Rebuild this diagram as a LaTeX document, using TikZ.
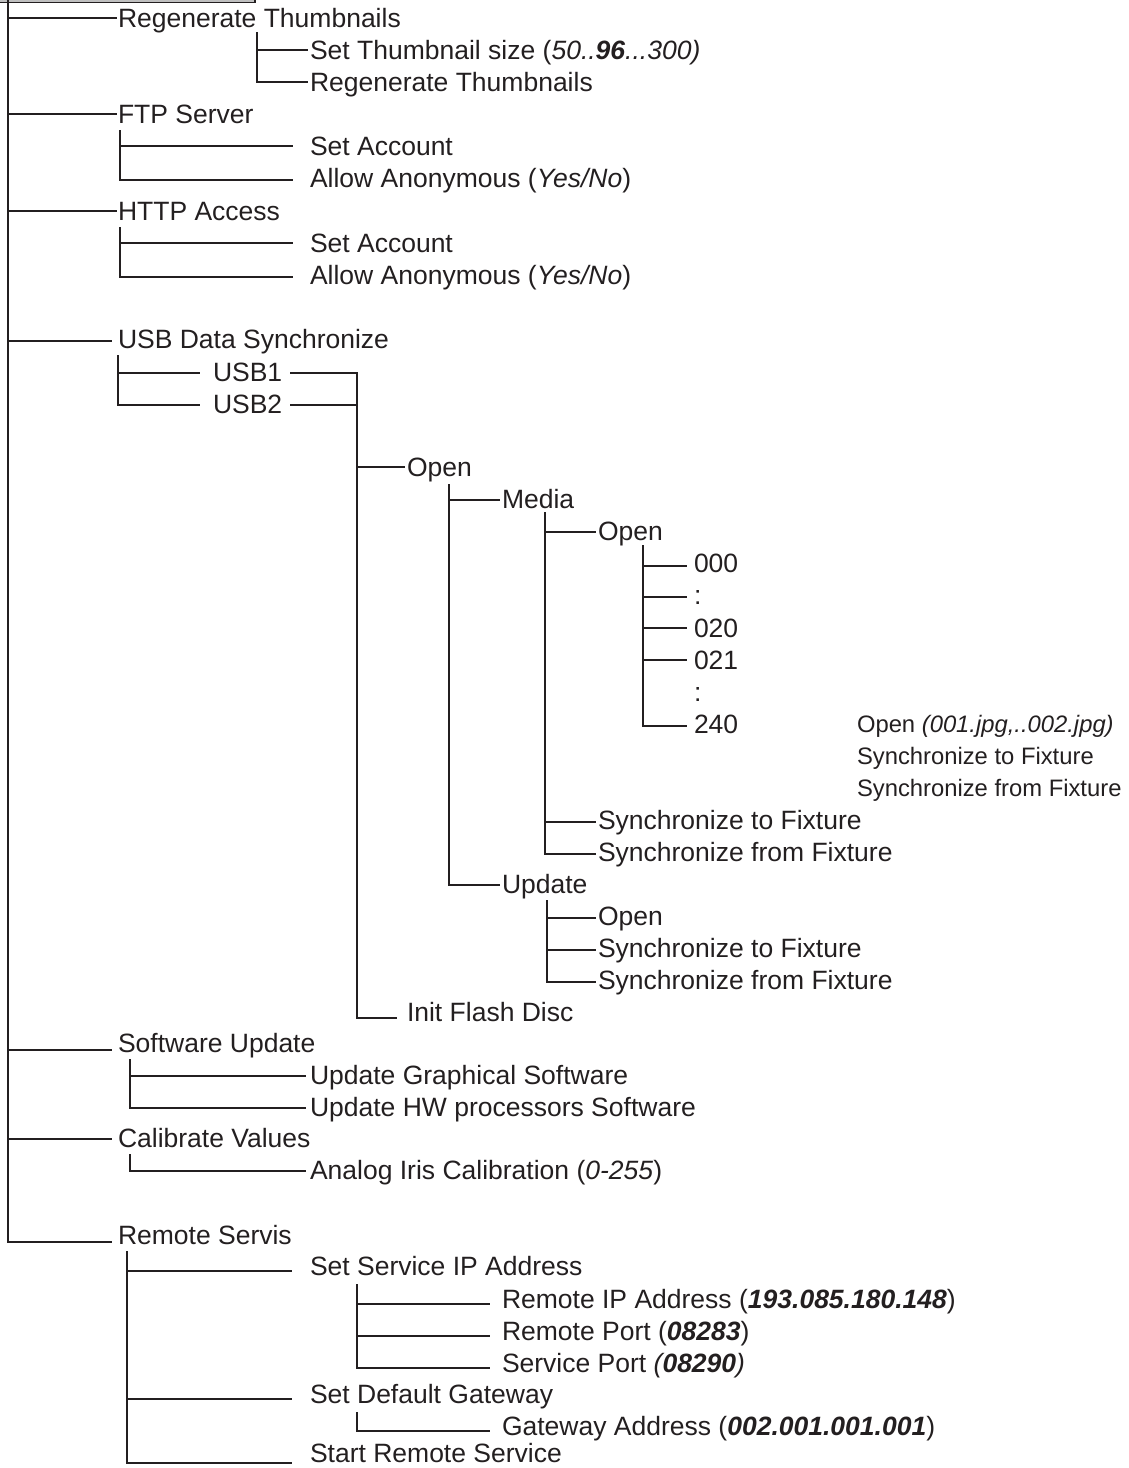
\documentclass[tikz,border=0pt]{standalone}
\usepackage{fontspec}
\setmainfont{Liberation Sans}
\usetikzlibrary{calc}
\definecolor{ink}{HTML}{231F20}
\begin{document}
\begin{tikzpicture}[x=0.5pt,y=-0.5pt,
  lbl/.style={anchor=west, inner sep=0pt, outer sep=0pt, text=ink,
    font=\fontsize{13.25}{15}\selectfont, text height=9.5pt, text depth=0pt},
  note/.style={lbl, font=\fontsize{11.9}{14}\selectfont, text height=8.5pt},
  ln/.style={draw=ink, line width=1.25pt}]
\useasboundingbox (0,0) rectangle (1129,1468);
% top box (cut off)
\begin{scope}
\clip (0,0) rectangle (1129,1468);
\fill[gray!50] (-5,-20) rectangle (255,2.5);
\draw[draw=ink, line width=0.9pt] (-5,2.5) -- (255,2.5) -- (255,-20);
\end{scope}

% nodes
\node[lbl] (rt) at (118,18) {Regenerate Thumbnails};
\node[lbl] (ts) at (310,50) {Set Thumbnail size (\textit{50..\textbf{96}...300)}};
\node[lbl] (rt2) at (310,82) {Regenerate Thumbnails};
\node[lbl] (ftp) at (118,114) {FTP Server};
\node[lbl] (fa1) at (310,146) {Set Account};
\node[lbl] (fa2) at (310,178) {Allow Anonymous (\textit{Yes/No})};
\node[lbl] (http) at (118,211) {HTTP Access};
\node[lbl] (ha1) at (310,243) {Set Account};
\node[lbl] (ha2) at (310,275) {Allow Anonymous (\textit{Yes/No})};
\node[lbl] (usb) at (118,339) {USB Data Synchronize};
\node[lbl] (usb1) at (213,372) {USB1};
\node[lbl] (usb2) at (213,404) {USB2};
\node[lbl] (op1) at (407,467) {Open};
\node[lbl] (media) at (502,499) {Media};
\node[lbl] (op2) at (598,531) {Open};
\node[lbl] (n000) at (694,563) {000};
\node[lbl] (d1) at (694,595) {:};
\node[lbl] (n020) at (694,628) {020};
\node[lbl] (n021) at (694,660) {021};
\node[lbl] (d2) at (694,692) {:};
\node[lbl] (n240) at (694,724) {240};
\node[note] (r1) at (857,724) {Open \textit{(001.jpg,..002.jpg)}};
\node[note] (r2) at (857,756) {Synchronize to Fixture};
\node[note] (r3) at (857,788) {Synchronize from Fixture};
\node[lbl] (mst) at (598,820) {Synchronize to Fixture};
\node[lbl] (msf) at (598,852) {Synchronize from Fixture};
\node[lbl] (upd) at (502,884) {Update};
\node[lbl] (uo) at (598,916) {Open};
\node[lbl] (ust) at (598,948) {Synchronize to Fixture};
\node[lbl] (usf) at (598,980) {Synchronize from Fixture};
\node[lbl] (init) at (407,1012) {Init Flash Disc};
\node[lbl] (sw) at (118,1043) {Software Update};
\node[lbl] (sw1) at (310,1075) {Update Graphical Software};
\node[lbl] (sw2) at (310,1107) {Update HW processors Software};
\node[lbl] (cal) at (118,1138) {Calibrate Values};
\node[lbl] (cal1) at (310,1170) {Analog Iris Calibration (\textit{0-255})};
\node[lbl] (rs) at (118,1235) {Remote Servis};
\node[lbl] (sip) at (310,1266) {Set Service IP Address};
\node[lbl] (rip) at (502,1299) {Remote IP Address (\textbf{\textit{193.085.180.148}})};
\node[lbl] (rp) at (502,1331) {Remote Port (\textbf{\textit{08283}})};
\node[lbl] (sp) at (502,1363) {Service Port \textit{(\textbf{08290})}};
\node[lbl] (gw) at (310,1394) {Set Default Gateway};
\node[lbl] (gwa) at (502,1426) {Gateway Address (\textbf{\textit{002.001.001.001}})};
\node[lbl] (srs) at (310,1453) {Start Remote Service};

% branch coordinates
\coordinate (mtop) at (8,-5);
\coordinate (vts) at (257,32);
\coordinate (vftp) at (120,130);
\coordinate (vhttp) at (120,227);
\coordinate (vusb) at (118,355);
\coordinate (uvt) at (357,373);
\coordinate (uvb) at (357,1018);
\coordinate (vmed) at (449,484);
\coordinate (vop2) at (545,512);
\coordinate (vnum) at (643,545);
\coordinate (vupd) at (547,900);
\coordinate (vsw) at (130,1059);
\coordinate (vcal) at (130,1154);
\coordinate (vrs) at (127,1251);
\coordinate (vsip) at (357,1284);
\coordinate (vgw) at (357,1412);

% main trunk
\draw[ln] (mtop) |- ($(rt.west)+(-1,0)$);
\draw[ln] (mtop) |- ($(ftp.west)+(-1,0)$);
\draw[ln] (mtop) |- ($(http.west)+(-1,0)$);
\draw[ln] (mtop) |- ($(usb.west)+(-6,2)$);
\draw[ln] (mtop) |- ($(sw.west)+(-6,7)$);
\draw[ln] (mtop) |- ($(cal.west)+(-6,1)$);
\draw[ln] (mtop) |- ($(rs.west)+(-6,7)$);

% Regenerate Thumbnails
\draw[ln] (vts) |- ($(ts.west)+(-2,0)$);
\draw[ln] (vts) |- ($(rt2.west)+(-2,0)$);
% FTP
\draw[ln] (vftp) |- ($(fa1.west)+(-17,0)$);
\draw[ln] (vftp) |- ($(fa2.west)+(-17,2)$);
% HTTP
\draw[ln] (vhttp) |- ($(ha1.west)+(-17,0)$);
\draw[ln] (vhttp) |- ($(ha2.west)+(-17,2)$);
% USB
\draw[ln] (vusb) |- ($(usb1.west)+(-13,1)$);
\draw[ln] (vusb) |- ($(usb2.west)+(-13,1)$);
\draw[ln] ($(usb1.east)+(8,1)$) -| (uvb);
\draw[ln] ($(usb2.east)+(8,1)$) -| (uvb);
\draw[ln] (uvt) |- ($(op1.west)+(-2,0)$);
\draw[ln] (uvt) |- ($(init.west)+(-10,6)$);
% Open -> Media / Update
\draw[ln] (vmed) |- ($(media.west)+(-2,1)$);
\draw[ln] (vmed) |- ($(upd.west)+(-2,1)$);
% Media -> Open / Sync
\draw[ln] (vop2) |- ($(op2.west)+(-2,1)$);
\draw[ln] (vop2) |- ($(mst.west)+(-2,2)$);
\draw[ln] (vop2) |- ($(msf.west)+(-2,2)$);
% Open -> numbers
\draw[ln] (vnum) |- ($(n000.west)+(-7,3)$);
\draw[ln] (vnum) |- ($(d1.west)+(-7,2)$);
\draw[ln] (vnum) |- ($(n020.west)+(-7,0)$);
\draw[ln] (vnum) |- ($(n021.west)+(-7,0)$);
\draw[ln] (vnum) |- ($(n240.west)+(-7,2)$);
% Update -> items
\draw[ln] (vupd) |- ($(uo.west)+(-2,2)$);
\draw[ln] (vupd) |- ($(ust.west)+(-2,2)$);
\draw[ln] (vupd) |- ($(usf.west)+(-2,2)$);
% Software Update
\draw[ln] (vsw) |- ($(sw1.west)+(-4,1)$);
\draw[ln] (vsw) |- ($(sw2.west)+(-4,1)$);
% Calibrate
\draw[ln] (vcal) |- ($(cal1.west)+(-4,1)$);
% Remote Servis
\draw[ln] (vrs) |- ($(sip.west)+(-18,5)$);
\draw[ln] (vrs) |- ($(gw.west)+(-18,5)$);
\draw[ln] (vrs) |- ($(srs.west)+(-18,10)$);
% Set Service IP
\draw[ln] (vsip) |- ($(rip.west)+(-12,5)$);
\draw[ln] (vsip) |- ($(rp.west)+(-12,5)$);
\draw[ln] (vsip) |- ($(sp.west)+(-12,5)$);
% Gateway
\draw[ln] (vgw) |- ($(gwa.west)+(-12,5)$);
\end{tikzpicture}
\end{document}
